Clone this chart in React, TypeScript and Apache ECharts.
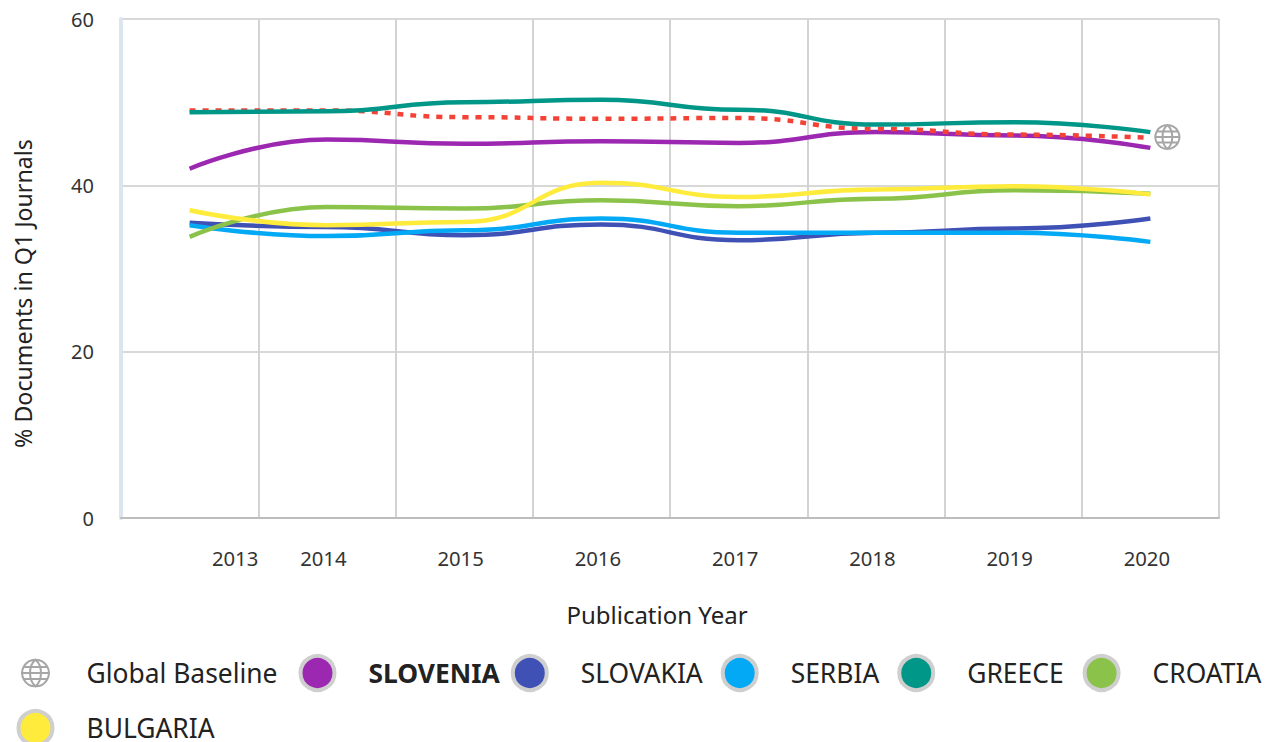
import React, { useEffect, useRef } from "react";
import * as echarts from "echarts";

const years = ["2013", "2014", "2015", "2016", "2017", "2018", "2019", "2020"];
const globalBaseline = [49, 49, 48.2, 48, 48.1, 46.8, 46.1, 45.7];
const slovenia = [42, 45.5, 45, 45.3, 45.1, 46.4, 46, 44.5];
const slovakia = [35.5, 35, 34, 35.3, 33.4, 34.3, 34.8, 36];
const serbia = [35.2, 33.9, 34.6, 36, 34.3, 34.3, 34.3, 33.2];
const greece = [48.8, 48.9, 50, 50.3, 49.1, 47.3, 47.6, 46.4];
const croatia = [33.8, 37.4, 37.2, 38.2, 37.5, 38.4, 39.4, 39];
const bulgaria = [37, 35.2, 35.6, 40.3, 38.6, 39.5, 39.9, 38.9];

const FONT = "'Noto Sans', sans-serif";
const GLOBE_SHAPE =
  "M12 1a11 11 0 1 0 0.01 0ZM12 1C6 6 6 18 12 23C18 18 18 6 12 1ZM1 12H23M2.5 7H21.5M2.5 17H21.5";
const GLOBE = "path://" + GLOBE_SHAPE;
const GLOBE_LEGEND = "path://M-2 -2L-2 -2M26 26L26 26" + GLOBE_SHAPE;

const countries = [
  { name: "SLOVENIA", data: slovenia, color: "#9c27b0", z: 1, gap: 0 },
  { name: "SLOVAKIA", data: slovakia, color: "#3f51b5", z: 3, gap: 7 },
  { name: "SERBIA", data: serbia, color: "#03a9f4", z: 3, gap: 7 },
  { name: "GREECE", data: greece, color: "#009688", z: 3, gap: 8 },
  { name: "CROATIA", data: croatia, color: "#8bc34a", z: 3, gap: 0 },
  { name: "BULGARIA", data: bulgaria, color: "#ffeb3b", z: 3, gap: 0 },
];

export default function App() {
  const ref = useRef<HTMLDivElement>(null);
  useEffect(() => {
    const chart = echarts.init(ref.current!, undefined, { renderer: "svg" });
    const legendText = (gap: number, bold = false, lineHeight = 44) => ({
      fontFamily: FONT,
      fontSize: 26.4,
      lineHeight,
      color: "#222",
      fontWeight: bold ? "bold" : "normal",
      padding: [0, gap, 0, 29],
    });
    chart.setOption({
      animation: false,
      textStyle: { fontFamily: FONT },
      grid: { left: 121, right: 47, top: 19, bottom: 224, containLabel: false, outerBoundsMode: "none" },
      legend: {
        left: 16,
        top: 651,
        width: 1250,
        padding: 0,
        itemGap: 11,
        itemWidth: 34,
        itemHeight: 34,
        selectedMode: false,
        textStyle: legendText(0),
        data: [
          {
            name: "Global Baseline",
            icon: GLOBE_LEGEND,
            itemStyle: { color: "none", borderColor: "#a6a6a6", borderWidth: 2, opacity: 1 },
            textStyle: legendText(10),
          },
          ...countries.map((c) => ({
            name: c.name,
            icon: "circle",
            itemStyle: { color: c.color, borderColor: "#cfcfcf", borderWidth: 4 },
            textStyle: legendText(c.gap, c.name === "SLOVENIA", c.name === "BULGARIA" ? 26 : 44),
          })),
        ],
      },
      xAxis: {
        type: "category",
        data: years,
        boundaryGap: true,
        name: "Publication Year",
        nameLocation: "middle",
        nameGap: 84,
        nameTextStyle: { fontSize: 24, color: "#222", padding: [0, 26, 0, 0] },
        axisTick: { show: false },
        axisLine: { lineStyle: { color: "#bdbdbd", width: 2 } },
        splitLine: {
          show: true,
          showMinLine: false,
          interval: 0,
          lineStyle: { color: "#d3d3d3", width: 2 },
        },
        axisLabel: {
          interval: 0,
          margin: 30,
          fontSize: 20.3,
          color: "#333",
          padding: [0, 7, 0, 0],
          formatter: (v: string) => (v === years[0] ? `{first|${v}}` : v),
          rich: { first: { fontSize: 20.3, color: "#333", padding: [0, 0, 0, 98] } },
        },
      },
      yAxis: {
        type: "value",
        min: 0,
        max: 60,
        interval: 20,
        name: "% Documents in Q1 Journals",
        nameLocation: "middle",
        nameGap: 87,
        nameTextStyle: { fontSize: 23.2, color: "#222", padding: [0, 50, 0, 0] },
        axisTick: { show: false },
        axisLine: { show: true, lineStyle: { color: "#dce5ed", width: 4 } },
        splitLine: { show: true, showMinLine: false, lineStyle: { color: "#d8d8d8", width: 2 } },
        axisLabel: { margin: 27, fontSize: 20, color: "#333" },
      },
      series: [
        {
          name: "Global Baseline",
          type: "line",
          data: globalBaseline,
          z: 2,
          smooth: 0.5,
          smoothMonotone: "x",
          showSymbol: false,
          symbol: "none",
          lineStyle: { color: "#f44336", width: 4.5, type: [6, 7] },
          itemStyle: { color: "#f44336" },
          markPoint: {
            silent: true,
            symbol: GLOBE,
            symbolSize: 24,
            symbolOffset: [17, -1],
            itemStyle: { color: "none", borderColor: "#a6a6a6", borderWidth: 2 },
            label: { show: false },
            data: [{ coord: [years[years.length - 1], globalBaseline[globalBaseline.length - 1]] }],
          },
        },
        ...countries.map((c) => ({
          name: c.name,
          type: "line",
          data: c.data,
          z: c.z,
          smooth: 0.5,
          smoothMonotone: "x",
          showSymbol: false,
          symbol: "none",
          lineStyle: { color: c.color, width: 4.5 },
          itemStyle: { color: c.color },
        })),
      ],
    });
    return () => chart.dispose();
  }, []);
  return <div ref={ref} style={{ position: "absolute", left: 0, top: 0, width: 1266, height: 742 }} />;
}
